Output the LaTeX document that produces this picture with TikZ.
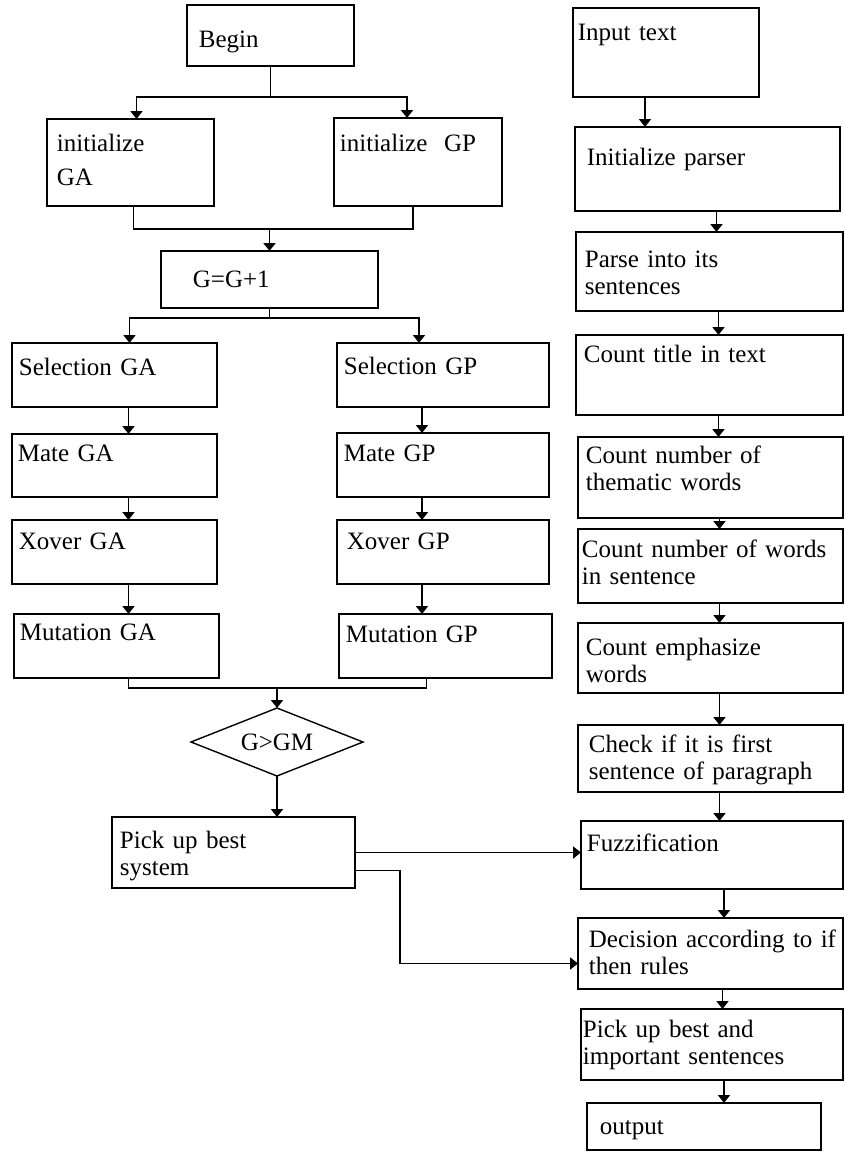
\documentclass[tikz,border=0pt]{standalone}
\usepackage{fontspec}
\setmainfont{Liberation Serif}
\usetikzlibrary{arrows.meta,shapes.geometric}

\tikzset{
  blk/.style 2 args={draw, anchor=north west, inner sep=0pt, outer sep=0pt,
    minimum width=#1, minimum height=#2},
  txt/.style={anchor=base west, inner sep=0pt, text width=260pt, align=left,
    font=\fontsize{25}{27.5}\selectfont},
  cond/.style={draw, diamond, aspect=2.5, inner sep=0pt, outer sep=0pt,
    minimum width=172pt, minimum height=68pt, font=\fontsize{25}{27.5}\selectfont}
}

\begin{document}
\begin{tikzpicture}[x=1pt, y=-1pt, line width=1.8pt, >={Triangle[width=12pt,length=8pt]}]
\useasboundingbox (0,0) rectangle (844,1152);

% GA / GP side
\node[blk={167pt}{61pt}] (begin) at (187,5) {};
\node[txt] (begin-t) at ([shift={(11,42)}]begin.north west) {Begin};
\node[blk={167pt}{87pt}] (initga) at (47,119) {};
\node[txt] (initga-t) at ([shift={(9,32)}]initga.north west) {initialize\\[7pt]GA};
\node[blk={168pt}{88pt}] (initgp) at (334,118) {};
\node[txt] (initgp-t) at ([shift={(5,33)}]initgp.north west) {initialize\ \ GP};
\node[blk={217pt}{57pt}] (incr) at (161,251) {};
\node[txt] (incr-t) at ([shift={(31,36)}]incr.north west) {G=G+1};

\node[blk={205pt}{64pt}] (selga) at (12,343) {};
\node[txt] (selga-t) at ([shift={(6,32)}]selga.north west) {Selection GA};
\node[blk={205pt}{63pt}] (matega) at (12,434) {};
\node[txt] (matega-t) at ([shift={(5,27)}]matega.north west) {Mate GA};
\node[blk={205pt}{64pt}] (xovga) at (12,520) {};
\node[txt] (xovga-t) at ([shift={(6,29)}]xovga.north west) {Xover GA};
\node[blk={205pt}{64pt}] (mutga) at (14,614) {};
\node[txt] (mutga-t) at ([shift={(5,26)}]mutga.north west) {Mutation GA};

\node[blk={212pt}{64pt}] (selgp) at (337,343) {};
\node[txt] (selgp-t) at ([shift={(6,31)}]selgp.north west) {Selection GP};
\node[blk={212pt}{64pt}] (mategp) at (337,433) {};
\node[txt] (mategp-t) at ([shift={(6,28)}]mategp.north west) {Mate GP};
\node[blk={212pt}{64pt}] (xovgp) at (337,520) {};
\node[txt] (xovgp-t) at ([shift={(9,29)}]xovgp.north west) {Xover GP};
\node[blk={213pt}{64pt}] (mutgp) at (339,614) {};
\node[txt] (mutgp-t) at ([shift={(6,28)}]mutgp.north west) {Mutation GP};

\node[cond, line width=1.4pt] (test) at (277,742) {G>GM};
\node[blk={243pt}{71pt}] (pick) at (112,817) {};
\node[txt] (pick-t) at ([shift={(7,31)}]pick.north west) {Pick up best\\system};

% text side
\node[blk={186pt}{89pt}] (input) at (573,8) {};
\node[txt] (input-t) at ([shift={(4,32)}]input.north west) {Input text};
\node[blk={265pt}{84pt}] (initp) at (575,127) {};
\node[txt] (initp-t) at ([shift={(11,38)}]initp.north west) {Initialize parser};
\node[blk={267pt}{79pt}] (parse) at (576,232) {};
\node[txt] (parse-t) at ([shift={(8,35)}]parse.north west) {Parse into its\\sentences};
\node[blk={267pt}{80pt}] (title) at (576,335) {};
\node[txt] (title-t) at ([shift={(7,27)}]title.north west) {Count title in text};
\node[blk={265pt}{81pt}] (thematic) at (578,437) {};
\node[txt] (thematic-t) at ([shift={(7,26)}]thematic.north west) {Count number of\\thematic words};
\node[blk={265pt}{74pt}] (nwords) at (578,529) {};
\node[txt] (nwords-t) at ([shift={(3,28)}]nwords.north west) {Count number of words\\in sentence};
\node[blk={265pt}{70pt}] (emph) at (578,623) {};
\node[txt] (emph-t) at ([shift={(7,32)}]emph.north west) {Count emphasize\\words};
\node[blk={265pt}{67pt}] (first) at (578,725) {};
\node[txt] (first-t) at ([shift={(10,27)}]first.north west) {Check if it is first\\sentence of paragraph};
\node[blk={262pt}{68pt}] (fuzz) at (581,821) {};
\node[txt] (fuzz-t) at ([shift={(5,30)}]fuzz.north west) {Fuzzification};
\node[blk={265pt}{71pt}] (decide) at (578,918) {};
\node[txt] (decide-t) at ([shift={(10,29)}]decide.north west) {Decision according to if\\then rules};
\node[blk={262pt}{71pt}] (pickbest) at (581,1009) {};
\node[txt] (pickbest-t) at ([shift={(1,28)}]pickbest.north west) {Pick up best and\\important sentences};
\node[blk={234pt}{47pt}] (output) at (587,1103) {};
\node[txt] (output-t) at ([shift={(12,31)}]output.north west) {output};

% branches and merges
\draw (begin.south) -- ++(0,31) coordinate (s1);
\draw[->] (s1) -| ([xshift=6pt]initga.north);
\draw[->] (s1) -| ([xshift=-11pt]initgp.north);
\draw ([xshift=3pt]initga.south) -- ++(0,23) coordinate (m1) -| ([xshift=-5pt]initgp.south);
\draw[->] (incr.north |- m1) -- (incr.north);
\draw (incr.south) -- ++(0,10) coordinate (s2);
\draw[->] (s2) -| ([xshift=15pt]selga.north);
\draw[->] (s2) -| ([xshift=-24pt]selgp.north);

\draw[->] ([xshift=14pt]selga.south) -- ([xshift=14pt]selga.south |- matega.north);
\draw[->] ([xshift=14pt]matega.south) -- ([xshift=14pt]matega.south |- xovga.north);
\draw[->] ([xshift=14pt]xovga.south) -- ([xshift=14pt]xovga.south |- mutga.north);
\draw[->] ([xshift=-21pt]selgp.south) -- ([xshift=-21pt]selgp.south |- mategp.north);
\draw[->] ([xshift=-21pt]mategp.south) -- ([xshift=-21pt]mategp.south |- xovgp.north);
\draw[->] ([xshift=-21pt]xovgp.south) -- ([xshift=-21pt]xovgp.south |- mutgp.north);

\draw ([xshift=12pt]mutga.south) -- ++(0,10) coordinate (m2) -| ([xshift=-19pt]mutgp.south);
\draw[->] (test.north |- m2) -- (test.north);
\draw[->] (test.south) -- (test.south |- pick.north);
\draw[->] (pick.east) -- (pick.east -| fuzz.west);
\draw[->] ([yshift=-18pt]pick.east) -- ++(45,0) |- ([yshift=-10pt]decide.west);

% text chain
\draw[->] ([xshift=-21pt]input.south) -- ([xshift=-21pt]input.south |- initp.north);
\draw[->] ([xshift=9pt]initp.south) -- ([xshift=9pt]initp.south |- parse.north);
\draw[->] ([xshift=9pt]parse.south) -- ([xshift=9pt]parse.south |- title.north);
\draw[->] ([xshift=9pt]title.south) -- ([xshift=9pt]title.south |- thematic.north);
\draw[->] ([xshift=9pt]thematic.south) -- ([xshift=9pt]thematic.south |- nwords.north);
\draw[->] ([xshift=9pt]nwords.south) -- ([xshift=9pt]nwords.south |- emph.north);
\draw[->] ([xshift=9pt]emph.south) -- ([xshift=9pt]emph.south |- first.north);
\draw[->] ([xshift=9pt]first.south) -- ([xshift=9pt]first.south |- fuzz.north);
\draw[->] ([xshift=12pt]fuzz.south) -- ([xshift=12pt]fuzz.south |- decide.north);
\draw[->] ([xshift=12pt]decide.south) -- ([xshift=12pt]decide.south |- pickbest.north);
\draw[->] ([xshift=12pt]pickbest.south) -- ([xshift=12pt]pickbest.south |- output.north);
\end{tikzpicture}
\end{document}
